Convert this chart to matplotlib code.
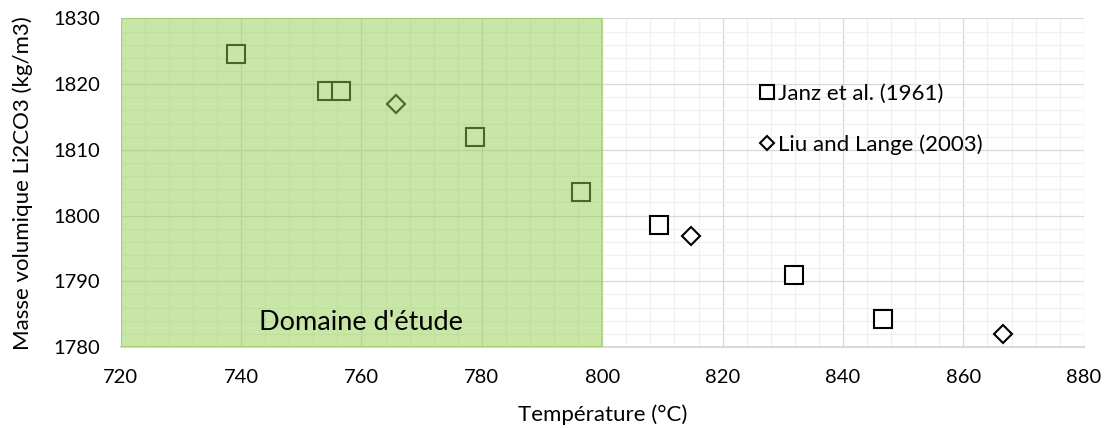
"""Masse volumique du Li2CO3 liquide en fonction de la température."""

import matplotlib

matplotlib.use("Agg")
import matplotlib.pyplot as plt
from matplotlib.ticker import MultipleLocator

plt.rcParams["font.family"] = ["Lato", "DejaVu Sans"]

# Janz et al. (1961)
janz_temp = [739.1, 754.3, 756.6, 778.9, 796.4, 809.5, 831.8, 846.7]
janz_rho = [1824.6, 1818.9, 1819.0, 1811.9, 1803.6, 1798.6, 1791.0, 1784.3]

# Liu and Lange (2003)
liu_temp = [765.8, 814.8, 866.6]
liu_rho = [1817.0, 1796.9, 1782.0]

study_range = (720, 800)
x_limits = (720, 880)
y_limits = (1780, 1830)

fig = plt.figure(figsize=(11.07, 4.29), dpi=100)
ax = fig.add_axes([0.109, 0.191, 0.870, 0.766])

ax.plot(janz_temp, janz_rho, linestyle="none", marker="s", ms=12.5, mew=1.5,
        mfc="white", mec="black", label="Janz et al. (1961)", zorder=3)
ax.plot(liu_temp, liu_rho, linestyle="none", marker="D", ms=9.5, mew=1.5,
        mfc="white", mec="black", label="Liu and Lange (2003)", zorder=3)

# zone d'étude, par-dessus les points comme dans Excel
ax.axvspan(*study_range, facecolor="#92D050", edgecolor="#92D050", alpha=0.5,
           lw=1.5, zorder=4)
ax.text(sum(study_range) / 2, 1783.8, "Domaine d'étude", fontsize=19.5,
        ha="center", va="center", zorder=5)

ax.set_xlim(*x_limits)
ax.set_ylim(*y_limits)
ax.xaxis.set_major_locator(MultipleLocator(20))
ax.xaxis.set_minor_locator(MultipleLocator(4))
ax.yaxis.set_major_locator(MultipleLocator(10))
ax.yaxis.set_minor_locator(MultipleLocator(2))
ax.grid(which="major", color="#D9D9D9", lw=0.9, zorder=0)
ax.grid(which="minor", color="#F0F0F0", lw=0.9, zorder=0)
ax.set_axisbelow(True)

for side in ("left", "top", "right"):
    ax.spines[side].set_visible(False)
ax.spines["bottom"].set_color("#D9D9D9")
ax.spines["bottom"].set_linewidth(1.5)

ax.tick_params(which="both", length=0, labelsize=14.5, labelcolor="black")
ax.tick_params(axis="x", pad=16)
ax.tick_params(axis="y", pad=15)

ax.set_xlabel("Température (°C)", fontsize=16)
ax.xaxis.set_label_coords(0.5, -0.175)
ax.set_ylabel("Masse volumique Li2CO3 (kg/m3)", fontsize=16)
ax.yaxis.set_label_coords(-0.091, 0.5)

ax.legend(loc="upper left", bbox_to_anchor=(0.662, 0.8), frameon=False,
          fontsize=16, markerscale=0.75, handlelength=0.75, handletextpad=0.15,
          labelspacing=1.35, borderpad=0, borderaxespad=0)

fig.savefig("out.png", dpi=100)
